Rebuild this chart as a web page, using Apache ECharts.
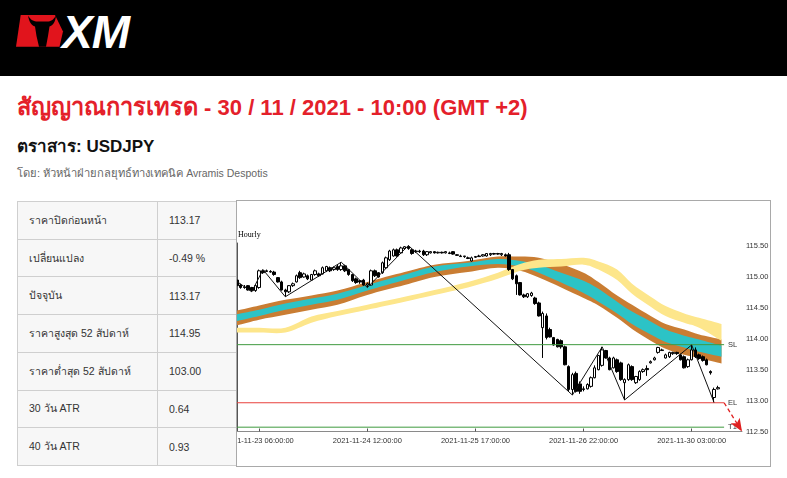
<!DOCTYPE html>
<html><head><meta charset="utf-8">
<script src="https://cdn.jsdelivr.net/npm/echarts@6/dist/echarts.min.js"></script>
<style>
html,body{margin:0;padding:0;background:#fff;width:787px;height:478px;overflow:hidden;font-family:"Liberation Sans",Arial,sans-serif;}
#hdr{position:absolute;left:0;top:0;width:787px;height:76px;background:#000;}
#logo{position:absolute;left:0;top:0;}
#xm{position:absolute;left:62px;top:9px;font:italic bold 46px/46px "Liberation Sans",Arial,sans-serif;color:#fff;letter-spacing:-1px;}
#title{position:absolute;left:17px;top:96px;font:bold 22px/22px "Liberation Sans",Arial,sans-serif;color:#e4202a;white-space:nowrap;}
#title .th{font-size:23.6px;}
#instr{position:absolute;left:17px;top:138px;font:bold 17px/17px "Liberation Sans",Arial,sans-serif;color:#111;white-space:nowrap;}
#by{position:absolute;left:17px;top:168px;font:10.5px/10.5px "Liberation Sans",Arial,sans-serif;color:#666;white-space:nowrap;}
#by .th{font-size:11.2px;}
#tbl{position:absolute;left:17px;top:201px;width:220px;height:264px;}
.cell{position:absolute;box-sizing:border-box;border:1px solid #cfcfcf;background:#f7f7f7;font-size:10.5px;color:#333;padding-left:11px;display:flex;align-items:center;white-space:nowrap;}
#frame{position:absolute;left:236px;top:200px;width:533px;height:265px;border:1px solid #a9a9a9;overflow:hidden;background:#fff;}
#chart{position:absolute;left:0;top:0;width:533px;height:265px;}
</style></head>
<body>
<div id="hdr">
  <svg id="logo" width="70" height="60" viewBox="0 0 70 60">
    <polygon points="20.7,15 55,15 63,31.5 59.5,46.7 16,46.7" fill="#e1141c"/>
    <path d="M28,15.5 C29,22 31.5,25.5 35,26.5 L36.5,36 L39,46.7 L46,46.7 L48,36 L49.5,26.5 C53,25.5 55.5,22 56,15.5 C53.5,20 50.5,21.5 47.5,21.5 L37.5,21.5 C34,21.5 30.5,20 28,15.5 Z" fill="#000"/>
  </svg>
  <div id="xm">XM</div>
</div>
<div id="title"><span class="th">สัญญาณการเทรด</span> - 30 / 11 / 2021 - 10:00 (GMT +2)</div>
<div id="instr">ตราสาร: USDJPY</div>
<div id="by"><span class="th">โดย: หัวหน้าฝ่ายกลยุทธ์ทางเทคนิค</span> Avramis Despotis</div>
<div id="tbl"></div>
<div id="frame"><div id="chart"></div></div>
<script>
// ---------- table content ----------
const rowLabels = ['ราคาปิดก่อนหน้า','เปลี่ยนแปลง','ปัจจุบัน','ราคาสูงสุด 52 สัปดาห์','ราคาต่ำสุด 52 สัปดาห์','30 วัน ATR','40 วัน ATR'];
const rowValues = ['113.17','-0.49 %','113.17','114.95','103.00','0.64','0.93'];

// ---------- candle data (hourly) ----------
const candleOpen = [114.95,114.87,114.84,114.86,114.83,114.78,114.83,115.10,115.10,115.09,
115.08,114.99,114.92,114.79,114.76,114.86,114.92,115.07,115.00,115.02,
114.95,115.04,115.05,115.05,115.10,115.15,115.12,115.17,115.12,115.18,
115.12,115.04,114.97,114.94,114.95,114.87,114.87,115.10,115.07,115.07,
115.15,115.28,115.34,115.44,115.39,115.46,115.49,115.44,115.41,115.42,
115.42,115.36,115.39,115.41,115.39,115.40,115.39,115.39,115.41,115.36,
115.34,115.33,115.31,115.26,115.33,115.34,115.34,115.34,115.36,115.38,
115.38,115.36,115.36,115.36,115.12,115.02,114.91,114.71,114.68,114.70,
114.66,114.58,114.18,114.37,114.15,114.02,113.99,113.97,113.87,113.55,
113.18,113.44,113.27,113.19,113.19,113.23,113.37,113.50,113.57,113.81,
113.69,113.53,113.66,113.61,113.29,113.34,113.55,113.29,113.34,113.47,
113.52,113.61,113.66,113.78,113.82,113.69,113.71,113.76,113.78,113.74,
113.71,113.55,113.66,113.82,113.74,113.71,113.66,113.47,113.05,113.19];
const candleClose = [114.86,114.83,114.83,114.79,114.78,114.86,115.10,115.07,115.09,115.08,
115.04,114.92,114.79,114.76,114.86,114.89,115.02,114.99,115.05,114.97,
115.04,115.10,115.02,115.15,115.17,115.10,115.15,115.12,115.18,115.10,
115.04,114.94,114.91,114.92,114.87,114.89,115.10,115.02,115.00,115.23,
115.31,115.42,115.44,115.34,115.47,115.49,115.46,115.38,115.42,115.41,
115.36,115.41,115.41,115.39,115.40,115.39,115.41,115.38,115.37,115.35,
115.33,115.34,115.30,115.31,115.32,115.33,115.36,115.38,115.38,115.37,
115.37,115.38,115.34,115.12,114.97,114.89,114.71,114.68,114.73,114.74,
114.57,114.37,114.41,114.02,114.03,113.90,113.87,113.87,113.58,113.18,
113.42,113.15,113.15,113.18,113.26,113.37,113.53,113.73,113.82,113.69,
113.50,113.69,113.47,113.34,113.34,113.58,113.34,113.39,113.47,113.50,
113.50,113.63,113.69,113.86,113.81,113.74,113.78,113.78,113.76,113.66,
113.53,113.66,113.82,113.71,113.68,113.65,113.58,113.45,113.18,113.21];
const candleLow = [114.84,114.81,114.81,114.78,114.76,114.76,114.81,115.05,115.08,115.07,
115.02,114.91,114.78,114.68,114.74,114.84,114.91,114.97,114.99,114.95,
114.94,115.02,115.00,115.04,115.08,115.08,115.10,115.10,115.10,115.08,
115.02,114.92,114.89,114.89,114.86,114.83,114.86,115.00,114.99,115.05,
115.13,115.26,115.33,115.33,115.38,115.44,115.44,115.36,115.39,115.39,
115.34,115.34,115.38,115.38,115.38,115.38,115.38,115.37,115.36,115.34,
115.33,115.31,115.29,115.25,115.31,115.33,115.33,115.33,115.34,115.36,
115.36,115.34,115.33,115.10,114.95,114.71,114.70,114.66,114.66,114.68,
114.55,114.36,113.69,113.99,114.02,113.89,113.86,113.84,113.57,113.15,
113.09,113.13,113.11,113.15,113.18,113.21,113.36,113.49,113.55,113.68,
113.49,113.52,113.45,113.32,113.01,113.32,113.32,113.27,113.32,113.45,
113.40,113.60,113.65,113.76,113.81,113.68,113.69,113.74,113.74,113.65,
113.52,113.53,113.65,113.69,113.66,113.63,113.57,113.42,112.97,113.18];
const candleHigh = [114.99,114.89,114.87,114.87,114.84,114.87,115.12,115.12,115.12,115.11,
115.10,115.00,114.94,114.81,114.87,114.91,115.04,115.10,115.07,115.04,
115.05,115.12,115.07,115.17,115.18,115.17,115.17,115.20,115.24,115.20,
115.13,115.05,114.99,114.95,114.97,114.91,115.12,115.12,115.08,115.25,
115.33,115.44,115.46,115.46,115.49,115.50,115.51,115.46,115.44,115.44,
115.44,115.42,115.42,115.42,115.41,115.41,115.42,115.41,115.42,115.37,
115.36,115.34,115.33,115.33,115.34,115.36,115.37,115.38,115.39,115.39,
115.39,115.39,115.38,115.39,115.13,115.04,114.92,114.73,114.74,114.76,
114.68,114.60,114.44,114.41,114.18,114.03,114.00,113.99,113.89,113.57,
113.45,113.47,113.31,113.23,113.28,113.39,113.57,113.74,113.87,113.82,
113.71,113.71,113.68,113.63,113.36,113.60,113.57,113.40,113.49,113.52,
113.57,113.65,113.71,113.87,113.84,113.76,113.79,113.79,113.79,113.76,
113.73,113.68,113.90,113.86,113.76,113.73,113.68,113.49,113.21,113.24];

// ---------- axis ----------
const slotCount = 136;
const tickIdx = [6, 35, 64, 93, 122];
const tickLabels = ['2021-11-23 06:00:00','2021-11-24 12:00:00','2021-11-25 17:00:00','2021-11-26 22:00:00','2021-11-30 03:00:00'];
const yTicks = [112.5, 113.0, 113.5, 114.0, 114.5, 115.0, 115.5];
const yMin = 112.5, yMax = 115.55;

// ---------- zigzag ----------
const zigIdx = [-0.3, 4, 7, 13, 28, 35, 46, 90, 98, 104, 122, 128];
const zigVal = [114.94, 114.76, 115.12, 114.68, 115.24, 114.83, 115.51, 113.09, 113.87, 113.01, 113.90, 112.97];

// ---------- moving-average bands ----------
const bandX    = [-0.5, 6, 13, 20, 27, 35, 45, 53, 62, 70, 76, 81, 87, 93, 97, 102, 106, 111, 115, 120, 124, 130];
const orangeHi = [114.45,114.54,114.63,114.70,114.78,114.92,115.08,115.20,115.26,115.33,115.33,115.31,115.21,115.07,114.92,114.70,114.55,114.37,114.24,114.15,114.07,113.99];
const orangeLo = [114.21,114.31,114.39,114.47,114.55,114.71,114.87,115.00,115.08,115.15,115.10,114.99,114.83,114.66,114.54,114.34,114.16,113.97,113.84,113.74,113.69,113.60];
const tealHi   = [114.39,114.47,114.57,114.65,114.73,114.87,115.04,115.17,115.23,115.29,115.26,115.20,115.07,114.94,114.81,114.60,114.44,114.28,114.15,114.05,113.99,113.89];
const tealLo   = [114.28,114.37,114.47,114.55,114.63,114.78,114.95,115.08,115.17,115.21,115.17,115.07,114.91,114.74,114.60,114.41,114.24,114.07,113.95,113.86,113.79,113.71];
const yellowHi = [114.18,114.18,114.18,114.36,114.45,114.55,114.68,114.79,114.92,115.07,115.21,115.28,115.29,115.31,115.25,115.12,114.89,114.68,114.53,114.41,114.34,114.24];
const yellowLo = [114.10,114.10,114.10,114.26,114.37,114.47,114.60,114.71,114.83,114.97,115.10,115.15,115.17,115.20,115.12,114.95,114.73,114.52,114.37,114.26,114.18,113.97];

// ---------- trade levels ----------
const levelNames = ['SL', 'EL', 'T1'];
const levelVals  = [113.905, 112.965, 112.57];
const levelStart = -0.5, levelEnd = 130.7;
const arrowEnd = [135.5, 112.5];

// ---------- build table ----------
const tbl = document.getElementById('tbl');
const rowH = 264 / rowLabels.length;
rowLabels.forEach((lab, k) => {
  const a = document.createElement('div');
  a.className = 'cell';
  a.style.cssText = `left:0;top:${k*rowH}px;width:141px;height:${rowH+1}px;`;
  a.textContent = lab;
  const b = document.createElement('div');
  b.className = 'cell';
  b.style.cssText = `left:140px;top:${k*rowH}px;width:80px;height:${rowH+1}px;`;
  b.textContent = rowValues[k];
  tbl.appendChild(a); tbl.appendChild(b);
});

// ---------- chart ----------
const chart = echarts.init(document.getElementById('chart'), null, {renderer: 'canvas'});
const cats = Array.from({length: slotCount}, (_, i) => String(i));
const ohlc = candleOpen.map((o, i) => [o, candleClose[i], candleLow[i], candleHigh[i]]);

// smooth band edge through the pixel points returned by the axes
function smoothEdge(pts, cmd) {
  let d = cmd + pts[0][0].toFixed(2) + ' ' + pts[0][1].toFixed(2);
  for (let i = 0; i < pts.length - 1; i++) {
    const p0 = pts[i - 1] || pts[i], p1 = pts[i], p2 = pts[i + 1], p3 = pts[i + 2] || pts[i + 1];
    const t = 1 / 6;
    const c1x = p1[0] + (p2[0] - p0[0]) * t, c1y = p1[1] + (p2[1] - p0[1]) * t;
    const c2x = p2[0] - (p3[0] - p1[0]) * t, c2y = p2[1] - (p3[1] - p1[1]) * t;
    d += ` C${c1x.toFixed(2)} ${c1y.toFixed(2)} ${c2x.toFixed(2)} ${c2y.toFixed(2)} ${p2[0].toFixed(2)} ${p2[1].toFixed(2)}`;
  }
  return d;
}

const bandSeries = (name, lo, hi, color) => ({
  type: 'custom', name: name, xAxisIndex: 1, yAxisIndex: 0, silent: true, clip: true,
  data: bandX.map((x, k) => [x, lo[k], hi[k]]),
  encode: {x: 0, y: [1, 2]},
  renderItem: (params, api) => {
    if (params.dataIndex !== 0) return null;
    const top = bandX.map((x, k) => api.coord([x, hi[k]]));
    const bot = bandX.map((x, k) => api.coord([x, lo[k]])).reverse();
    const d = smoothEdge(top, 'M') + ' ' + smoothEdge(bot, 'L') + ' Z';
    return {type: 'path', shape: {pathData: d}, style: {fill: color}};
  }
});

const levelColors = {SL: '#3f9a3f', EL: '#e8413c', T1: '#3f9a3f'};
const axisFont = {fontFamily: '"Liberation Sans", Arial, sans-serif', fontSize: 7.5, color: '#333'};

const levelSeries = levelNames.map((n, k) => ({
  type: 'line', name: n, xAxisIndex: 1, silent: true, symbol: 'none',
  data: [[levelStart, levelVals[k]], [levelEnd, levelVals[k]]],
  lineStyle: {color: levelColors[n], width: 1},
  itemStyle: {color: levelColors[n]},
  endLabel: Object.assign({show: true, formatter: n, distance: 4}, axisFont)
}));

chart.setOption({
  animation: false,
  backgroundColor: 'transparent',
  grid: {left: -2, top: 42, width: 507, height: 188.5, containLabel: false, outerBoundsMode: 'none'},
  graphic: [{type: 'text', left: 1, top: 30,
    style: {text: 'Hourly', font: '8px "Liberation Serif", "Times New Roman", serif', fill: '#000'}}],
  xAxis: [
    {type: 'category', data: cats, boundaryGap: true,
     axisLine: {show: true, lineStyle: {color: '#8a8a8a', width: 1}},
     axisTick: {show: true, inside: true, length: 3, alignWithLabel: true,
       interval: (i) => tickIdx.includes(i), lineStyle: {color: '#555'}},
     axisLabel: Object.assign({interval: (i) => tickIdx.includes(i), margin: 5, hideOverlap: false,
       formatter: (v, i) => tickLabels[tickIdx.indexOf(i)] || ''}, axisFont),
     splitLine: {show: false}},
    {type: 'value', min: -0.5, max: slotCount - 0.5, show: false, splitLine: {show: false}}
  ],
  yAxis: {type: 'value', position: 'right', min: yMin, max: yMax,
    axisLine: {show: true, lineStyle: {color: '#555', width: 1}},
    axisTick: {show: true, inside: true, length: 3, customValues: yTicks.concat(levelVals), lineStyle: {color: '#555'}},
    axisLabel: Object.assign({margin: 4, customValues: yTicks, formatter: (v) => v.toFixed(2)}, axisFont),
    splitLine: {show: false}},
  series: [
    bandSeries('orange', orangeLo, orangeHi, '#c97d33'),
    bandSeries('teal', tealLo, tealHi, '#2cc3c6'),
    bandSeries('yellow', yellowLo, yellowHi, '#fde68b'),
    ...levelSeries,
    {type: 'line', name: 'target', xAxisIndex: 1, data: [[levelEnd, levelVals[1]]], symbol: 'none',
     lineStyle: {width: 0, opacity: 0}, silent: true,
     markLine: {silent: true, animation: false, symbol: ['none', 'arrow'], symbolSize: [8, 13],
       lineStyle: {color: '#e02020', width: 1.3, type: [4, 3], opacity: 1}, label: {show: false},
       data: [[{coord: [levelEnd, levelVals[1]]}, {coord: arrowEnd}]]}},
    {type: 'candlestick', name: 'USDJPY', xAxisIndex: 0, data: ohlc, barWidth: 3,
     itemStyle: {color: '#ffffff', color0: '#000000', borderColor: '#000000', borderColor0: '#000000', borderWidth: 1}},
    {type: 'line', name: 'zigzag', xAxisIndex: 1, data: zigIdx.map((x, k) => [x, zigVal[k]]),
     symbol: 'none', lineStyle: {color: '#111', width: 1}, silent: true}
  ]
});
</script>
</body></html>
